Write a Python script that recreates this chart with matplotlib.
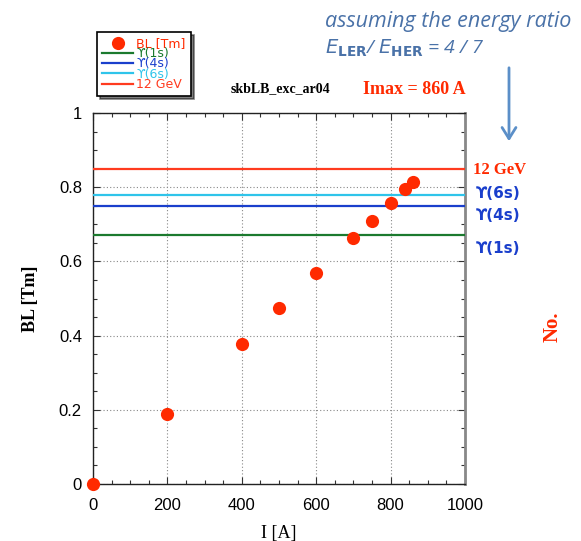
import matplotlib
matplotlib.use("Agg")
import matplotlib.pyplot as plt
from matplotlib.ticker import MultipleLocator, FuncFormatter

# Data
current_A = [0, 200, 400, 500, 600, 700, 750, 800, 840, 860]
bl_Tm = [0.0, 0.189, 0.378, 0.474, 0.569, 0.663, 0.709, 0.757, 0.795, 0.814]

ref_labels = ["\u03d2(1s)", "\u03d2(4s)", "\u03d2(6s)", "12 GeV"]
ref_values = [0.67, 0.75, 0.78, 0.85]
ref_colors = ["#1b7a2e", "#1a3fcc", "#2fc4ea", "#ff3b1f"]

right_labels = ["12 GeV", "\u03d2(6s)", "\u03d2(4s)", "\u03d2(1s)"]
right_label_y = [0.846, 0.782, 0.725, 0.634]

W, H = 581, 541
fig = plt.figure(figsize=(W / 100, H / 100), dpi=100)
ax = fig.add_axes([93 / W, 1 - 484 / H, (465 - 93) / W, (484 - 113) / H])

handles = []
h = ax.plot(current_A, bl_Tm, 'o', color="#ff2a00", markersize=9.5,
            markeredgewidth=0, label="BL [Tm]", zorder=5, clip_on=False)
handles.append(h[0])
for lab, v, c in zip(ref_labels, ref_values, ref_colors):
    h = ax.axhline(v, color=c, lw=1.6, label=lab, zorder=3)
    handles.append(h)

ax.set_xlim(0, 1000)
ax.set_ylim(0, 1)
ax.xaxis.set_major_locator(MultipleLocator(200))
ax.xaxis.set_minor_locator(MultipleLocator(50))
ax.yaxis.set_major_locator(MultipleLocator(0.2))
ax.yaxis.set_minor_locator(MultipleLocator(0.05))
ax.xaxis.set_major_formatter(FuncFormatter(lambda v, p: f"{v:g}"))
ax.yaxis.set_major_formatter(FuncFormatter(lambda v, p: f"{v:g}"))
ax.tick_params(which='both', direction='in', top=True, right=True, color='#333333')
ax.tick_params(which='major', length=5, width=0.8, labelsize=12)
ax.tick_params(axis='x', which='major', pad=10)
ax.tick_params(axis='y', which='major', pad=8)
ax.tick_params(which='minor', length=3, width=0.8)
for lbl in ax.get_xticklabels() + ax.get_yticklabels():
    lbl.set_family("Liberation Sans")
ax.grid(True, which='major', linestyle=(0, (1, 2)), color='#888888', lw=0.8)
for s in ['left', 'bottom', 'top']:
    ax.spines[s].set_color('#222222')
    ax.spines[s].set_linewidth(1.0)
ax.spines['right'].set_color('#888888')
ax.spines['right'].set_linewidth(2.0)

ax.set_xlabel("I [A]", family="Liberation Serif", fontsize=13, labelpad=9)
ax.set_ylabel("BL [Tm]", family="Liberation Serif", fontsize=13, fontweight='bold', labelpad=14)

leg = fig.legend(handles=handles, loc='upper left',
                 bbox_to_anchor=(97 / W, 1 - 32 / H), frameon=True, fancybox=False,
                 shadow={'color': 'black'}, labelspacing=-0.22,
                 handlelength=2.5, handletextpad=0.25, borderpad=0.4, borderaxespad=0,
                 labelcolor='linecolor',
                 prop={'family': ['DejaVu Sans'], 'size': 9})
leg.get_frame().set_edgecolor('black')
leg.get_frame().set_linewidth(1.2)

fig.text(280 / W, 1 - 89 / H, "skbLB_exc_ar04", family="Liberation Serif",
         fontweight='bold', fontsize=10, ha='center', va='center')
fig.text(414 / W, 1 - 90 / H, "Imax = 860 A", family="Liberation Serif",
         fontweight='bold', fontsize=13, color="#ff2a00", ha='center', va='center')

fig.text(325 / W, 1 - 21 / H, "assuming the energy ratio", family="Open Sans",
         style='italic', fontsize=15.5, color="#4a72a8", ha='left', va='center')
fig.text(325 / W, 1 - 48 / H, r"$E_{\mathbf{LER}}$/ $E_{\mathbf{HER}}$ = 4 / 7",
         family="Open Sans", style='italic', fontsize=14, color="#4a72a8",
         ha='left', va='center')

ax.annotate("", xy=(509 / W, 1 - 144 / H), xytext=(509 / W, 1 - 65 / H),
            xycoords='figure fraction', textcoords='figure fraction',
            arrowprops=dict(arrowstyle='->,head_length=0.8,head_width=0.5',
                            color="#5b8fc8", lw=2.0))

for lab, y in zip(right_labels, right_label_y):
    if lab == "12 GeV":
        ax.text(1022, y, lab, family="Liberation Serif", fontweight='bold',
                fontsize=12, color="#ff2a00", ha='left', va='center', clip_on=False)
    else:
        ax.text(1030, y, lab, family='DejaVu Sans', fontweight='bold',
                fontsize=11, color="#1a3fcc", ha='left', va='center', clip_on=False)

fig.text(553 / W, 1 - 327 / H, "No.", family="Liberation Serif", fontweight='bold',
         fontsize=15, color="#ff2a00", rotation=90, ha='center', va='center')

fig.savefig("out.png", dpi=100)
